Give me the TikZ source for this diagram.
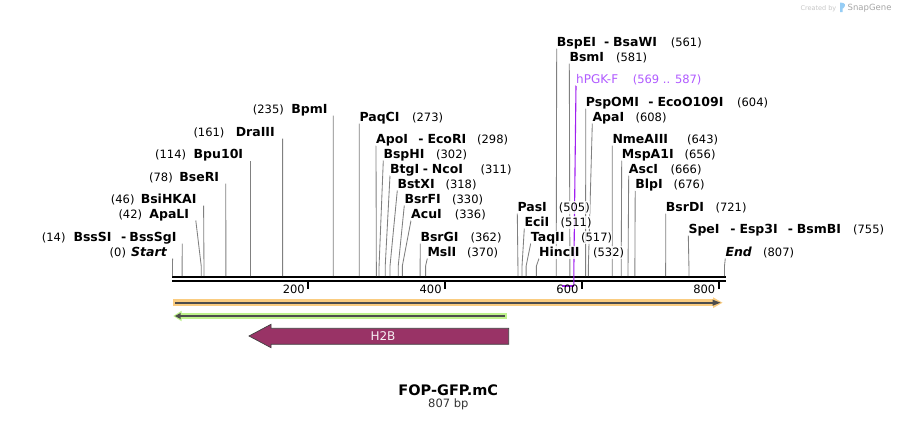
\documentclass[tikz,border=0pt]{standalone}
\usepackage{fontspec}
\setmainfont{DejaVu Sans}
\usetikzlibrary{arrows.meta}
\pgfdeclarelayer{bg}
\pgfsetlayers{bg,main}
\definecolor{leadc}{RGB}{128,128,128}
\definecolor{pgk}{RGB}{160,32,240}
\definecolor{pgktxt}{RGB}{176,90,255}
\definecolor{orng}{RGB}{250,204,128}
\definecolor{grn}{RGB}{190,242,140}
\definecolor{featline}{RGB}{77,77,77}
\definecolor{hb}{RGB}{153,51,102}
\definecolor{sgblue}{RGB}{150,205,245}
\tikzset{
  lbl/.style={inner xsep=0pt, inner ysep=0.5pt, fill=white, fill opacity=0.8, text opacity=1, text height=9.3pt, text depth=2pt},
  nm/.style={lbl, font=\fontsize{12.5}{14}\selectfont\bfseries},
  nb/.style={lbl, font=\fontsize{11.5}{13}\selectfont},
  leadline/.style={draw=leadc, line width=0.85pt},
  tickl/.style={font=\fontsize{11.5}{13}\selectfont, inner sep=0pt, anchor=base east},
}
% right-side label: id, label x, y, name, number end x, number, bp
\newcommand\RL[7]{%
  \node[nm, anchor=base west] (#1) at (#2,#3+4) {#4};
  \node[nb, anchor=base east] (#1n) at (#5,#3+4) {#6};
  \pgfmathsetmacro{\pX}{172.5+0.684*#7}
  \coordinate (#1t) at (#2,#3+6.5);
  \coordinate (#1k) at (\pX,266);
  \coordinate (#1b) at (\pX,276);
  \begin{pgfonlayer}{bg}\draw[leadline] (#1t) -- (#1k) -- (#1b);\end{pgfonlayer}
}
% left-side label: id, number start x, y, number, name end x, name, bp, line top x
\newcommand\LL[8]{%
  \node[nb, anchor=base west] (#1n) at (#2,#3+4) {#4};
  \node[nm, anchor=base east] (#1) at (#5,#3+4) {#6};
  \pgfmathsetmacro{\pX}{172.5+0.684*#7}
  \coordinate (#1t) at (#8,#3+6.5);
  \coordinate (#1k) at (\pX,266);
  \coordinate (#1b) at (\pX,276);
  \begin{pgfonlayer}{bg}\draw[leadline] (#1t) -- (#1k) -- (#1b);\end{pgfonlayer}
}
% extra name part: id, start x, y, word
\newcommand\EX[4]{%
  \node[nm, anchor=base west] (#1) at (#2,#3+4) {#4};
  \node[nm, anchor=base east] (#1h) at (#2-3.5,#3+4) {-};
}
\begin{document}
\begin{tikzpicture}[x=1pt,y=-1pt]
\useasboundingbox (0,0) rectangle (898,421);
\begin{pgfonlayer}{bg}
\fill[white] (0,0) rectangle (898,421);
% ruler
\draw[black, line width=2.6pt] (172.3,277) -- (725.7,277);
\draw[black, line width=2.3pt] (172.3,281.3) -- (725.7,281.3);
\end{pgfonlayer}
% ticks
\foreach \p/\t in {200/t2,400/t4,600/t6,800/t8}{
  \pgfmathsetmacro{\tx}{171.5+0.684*\p}
  \coordinate (\t a) at (\tx,282);
  \coordinate (\t b) at (\tx,289);
  \draw[black, line width=2pt] (\t a) -- (\t b);
  \node[tickl] (\t l) at (\tx-3.3,293.2) {\p};
}
% right-side labels
\RL{paqci}{359.3}{117}{PaqCI}{443.3}{(273)}{273}
\RL{apoi}{376}{139}{ApoI}{508.3}{(298)}{298}
\EX{ecori}{427.3}{139}{EcoRI}
\RL{bsphi}{383.3}{154}{BspHI}{467.3}{(302)}{302}
\RL{btgi}{390}{169}{BtgI}{511.7}{(311)}{311}
\EX{ncoi}{431.7}{169}{NcoI}
\RL{bstxi}{397.3}{184}{BstXI}{476.7}{(318)}{318}
\RL{bsrfi}{404.3}{199}{BsrFI}{483.3}{(330)}{330}
\RL{acui}{411}{214}{AcuI}{486}{(336)}{336}
\RL{bsrgi}{420.3}{237}{BsrGI}{501.7}{(362)}{362}
\RL{msli}{427.3}{252}{MslI}{498.3}{(370)}{370}
\RL{pasi}{517.3}{207}{PasI}{590}{(505)}{505}
\RL{ecii}{524.3}{222}{EciI}{591.7}{(511)}{511}
\RL{taqii}{530.7}{237}{TaqII}{612.3}{(517)}{517}
\RL{hincii}{539}{252}{HincII}{624.3}{(532)}{532}
\RL{bspei}{556.7}{42}{BspEI}{702}{(561)}{561}
\EX{bsawi}{613}{42}{BsaWI}
\RL{bsmi}{569.3}{57}{BsmI}{647.3}{(581)}{581}
\RL{pspomi}{585.7}{102}{PspOMI}{768.3}{(604)}{604}
\EX{eco109}{657.3}{102}{EcoO109I}
\RL{apai}{592.3}{117}{ApaI}{666.7}{(608)}{608}
\RL{nmeaiii}{612.3}{139}{NmeAIII}{718.3}{(643)}{643}
\RL{mspa}{621.7}{154}{MspA1I}{715.7}{(656)}{656}
\RL{asci}{628.7}{169}{AscI}{701.7}{(666)}{666}
\RL{blpi}{635.2}{184}{BlpI}{704.7}{(676)}{676}
\RL{bsrdi}{665.7}{207}{BsrDI}{746.7}{(721)}{721}
\RL{spei}{688.3}{229}{SpeI}{884.3}{(755)}{755}
\EX{esp3i}{739.3}{229}{Esp3I}
\EX{bsmbi}{796.7}{229}{BsmBI}
\RL{endl}{725.3}{252}{\itshape End}{794.3}{(807)}{807}
% left-side labels
\LL{start}{109.5}{252}{(0)}{167}{\itshape Start}{0}{172.6}
\LL{bsssgi}{41.7}{237}{(14)}{176.7}{BssSgI}{14}{182.3}
\node[nm, anchor=base west] (bsssi) at (73.3,241) {BssSI};
\node[nm, anchor=base east] (bsssih) at (126.5,241) {-};
\LL{apali}{118.3}{214}{(42)}{189.3}{ApaLI}{42}{195.8}
\LL{bsihkai}{110.7}{199}{(46)}{196.7}{BsiHKAI}{46}{203.6}
\LL{bseri}{149}{177}{(78)}{219.3}{BseRI}{78}{225.8}
\LL{bpu}{155}{154.5}{(114)}{243.3}{Bpu10I}{114}{250.5}
\LL{draiii}{193.3}{132}{(161)}{275}{DraIII}{161}{282.6}
\LL{bpmi}{252.7}{109}{(235)}{327.7}{BpmI}{235}{333.2}
% primer hPGK-F
\node[lbl, font=\fontsize{12}{14}\selectfont, text=pgktxt, anchor=base west] (pgk) at (576,83) {hPGK-F};
\node[lbl, font=\fontsize{11.5}{13}\selectfont, text=pgktxt, anchor=base east] (pgkn) at (701.7,83) {(569 .. 587)};
\coordinate (pgkt) at (576,85.5);
\coordinate (pgkk) at (573.9,266);
\coordinate (pgkb) at (573.9,285.5);
\coordinate (pgka) at (561.5,285.5);
\begin{pgfonlayer}{bg}
\draw[pgk, line width=1.1pt] (pgkt) -- (pgkk) -- (pgkb);
\draw[pgk, line width=2pt] (pgka) -- (pgkb);
\end{pgfonlayer}
% orange feature (forward)
\coordinate (oa) at (173,302.7);
\coordinate (ob) at (722.5,302.7);
\fill[orng] (173,299.2) rectangle (715,306.2);
\fill[orng] (713,297.3) -- (ob) -- (713,308.1) -- cycle;
\draw[featline, line width=2.4pt] (175,302.7) -- (714,302.7);
\fill[featline] (712.5,299.6) -- (720.5,302.7) -- (712.5,305.8) -- cycle;
% green feature (reverse)
\coordinate (ga) at (173.3,316);
\coordinate (gb) at (507.3,316);
\fill[grn] (180,312.8) rectangle (gb |- 0,319.2);
\fill[grn] (181.5,310.8) -- (ga) -- (181.5,321.2) -- cycle;
\draw[featline, line width=2.2pt] (180,316) -- (505.3,316);
\fill[featline] (180.5,313) -- (175,316) -- (180.5,319) -- cycle;
% H2B
\draw[fill=hb, draw=black!75, line width=0.7pt] (249,336) -- (271,324.3) -- (271,328.3) -- (508.7,328.3) -- (508.7,344.3) -- (271,344.3) -- (271,347.7) -- cycle;
\node[font=\fontsize{12}{13}\selectfont, text=white!92!hb, inner sep=0pt] (h2b) at (383,336) {H2B};
% title
\node[font=\fontsize{14.5}{16}\selectfont\bfseries, inner sep=0pt] (title) at (448.3,390) {FOP-GFP.mC};
\node[font=\fontsize{11.5}{13}\selectfont, text=black!80, inner sep=0pt] (len) at (448.3,404.5) {807 bp};
% logo
\node[font=\fontsize{6.5}{7}\selectfont, text=black!22, anchor=base east, inner sep=0pt] (cr) at (836.5,10) {Created by};
\fill[sgblue] (840,12) -- (840,2.5) .. controls (845,2.5) and (846.5,5) .. (843.5,8) -- (842.5,8.5) -- (842.5,12) -- cycle;
\node[font=\fontsize{8.5}{9}\selectfont, text=black!35, anchor=base west, inner sep=0pt] (sg) at (847.5,10.5) {SnapGene};
\end{tikzpicture}
\end{document}
